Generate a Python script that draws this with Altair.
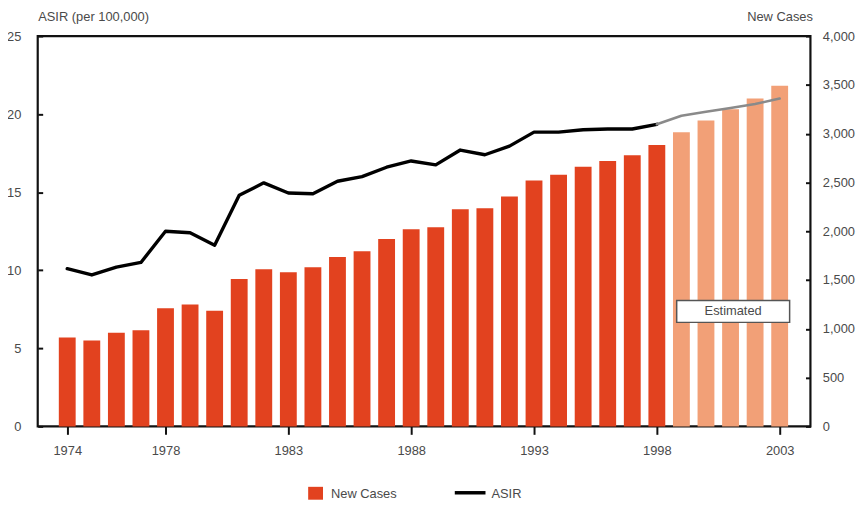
import altair as alt
import pandas as pd

years = list(range(1974, 2004))
new_cases = [910, 880, 960, 985, 1210, 1250, 1185, 1510, 1610, 1580,
             1630, 1735, 1795, 1920, 2020, 2040, 2225, 2235, 2355, 2520,
             2580, 2660, 2720, 2780, 2885, 3015, 3135, 3250, 3360, 3490]
asir = [10.1, 9.7, 10.2, 10.5, 12.5, 12.4, 11.6, 14.8, 15.6, 14.95,
        14.9, 15.7, 16.0, 16.6, 17.0, 16.75, 17.7, 17.4, 17.95, 18.85,
        18.85, 19.0, 19.05, 19.05, 19.35, 19.9, 20.15, 20.4, 20.65, 21.0]
first_estimated = 1999
x_ticks = [1974, 1978, 1983, 1988, 1993, 1998, 2003]
left_ticks = [0, 5, 10, 15, 20, 25]
right_ticks = [0, 500, 1000, 1500, 2000, 2500, 3000, 3500, 4000]

FONT = "Liberation Sans, Arial, sans-serif"
FS = 13
TXT = "#4a4a4a"
RED = "#E2421F"
PEACH = "#F2A077"

bars_df = pd.DataFrame({
    "year": years,
    "cases": new_cases,
    "kind": ["Estimated" if y >= first_estimated else "Observed" for y in years],
})

rows = []
for y, v in zip(years, asir):
    if y < first_estimated:
        rows.append({"year": y, "asir": v, "seg": "Observed"})
    if y >= first_estimated - 1:
        rows.append({"year": y, "asir": v, "seg": "Estimated"})
line_df = pd.DataFrame(rows)

xscale = alt.Scale(domain=[1973, 2004.05], nice=False, zero=False)
xaxis = alt.Axis(values=x_ticks, format="d", title=None, domain=False,
                 tickSize=8, tickWidth=2, tickColor="#111", labelPadding=10,
                 labelFont=FONT, labelFontSize=FS, labelColor=TXT, grid=False)

bars = alt.Chart(bars_df).mark_bar(size=17).encode(
    x=alt.X("year:Q", scale=xscale, axis=xaxis),
    y=alt.Y("cases:Q", scale=alt.Scale(domain=[0, 4000], nice=False),
            axis=alt.Axis(orient="right", values=right_ticks, format=",.0f",
                          offset=-5, tickSize=5, tickWidth=2, tickColor="#111",
                          domain=False, grid=False, labelPadding=12,
                          labelFont=FONT, labelFontSize=FS, labelColor=TXT,
                          title="New Cases", titleAngle=0, titleAlign="right",
                          titleBaseline="alphabetic", titleX=7, titleY=-16,
                          titleFont=FONT, titleFontSize=FS, titleFontWeight="normal",
                          titleColor=TXT)),
    color=alt.Color("kind:N", scale=alt.Scale(domain=["Observed", "Estimated"],
                                              range=[RED, PEACH]), legend=None),
)

line = alt.Chart(line_df).mark_line(strokeCap="round", strokeJoin="round").encode(
    x=alt.X("year:Q", scale=xscale),
    y=alt.Y("asir:Q", scale=alt.Scale(domain=[0, 25], nice=False),
            axis=alt.Axis(orient="left", values=left_ticks, offset=-5, tickSize=5,
                          tickWidth=2, tickColor="#111", domain=False, grid=False,
                          labelPadding=17, labelFont=FONT, labelFontSize=FS,
                          labelColor=TXT, title="ASIR (per 100,000)", titleAngle=0,
                          titleAlign="left", titleBaseline="alphabetic",
                          titleX=-5, titleY=-16, titleFont=FONT, titleFontSize=FS,
                          titleFontWeight="normal", titleColor=TXT)),
    stroke=alt.Stroke("seg:N", scale=alt.Scale(domain=["Observed", "Estimated"],
                                               range=["#000000", "#8a8a8a"]), legend=None),
    strokeWidth=alt.StrokeWidth("seg:N", scale=alt.Scale(domain=["Observed", "Estimated"],
                                                         range=[3.4, 2.6]), legend=None),
    detail="seg:N",
)

one = pd.DataFrame({"k": [0]})

est_box = alt.Chart(one).mark_rect(fill="white", stroke="#555", strokeWidth=1.5).encode(
    x=alt.value(645), x2=alt.value(759), y=alt.value(267), y2=alt.value(289))
est_text = alt.Chart(one).mark_text(text="Estimated", font=FONT, fontSize=FS,
                                    color=TXT, baseline="middle").encode(
    x=alt.value(702), y=alt.value(278))

leg_sq = alt.Chart(one).mark_rect(fill=RED).encode(
    x=alt.value(273), x2=alt.value(288), y=alt.value(455), y2=alt.value(468))
leg_t1 = alt.Chart(one).mark_text(text="New Cases", font=FONT, fontSize=FS, color=TXT,
                                  align="left", baseline="middle").encode(
    x=alt.value(296), y=alt.value(462))
leg_ln = alt.Chart(one).mark_rule(stroke="#000", strokeWidth=3.5).encode(
    x=alt.value(421), x2=alt.value(452), y=alt.value(461))
leg_t2 = alt.Chart(one).mark_text(text="ASIR", font=FONT, fontSize=FS, color=TXT,
                                  align="left", baseline="middle").encode(
    x=alt.value(458), y=alt.value(462))

chart = alt.layer(bars, line, est_box, est_text, leg_sq, leg_t1, leg_ln, leg_t2).resolve_scale(
    y="independent", stroke="independent", strokeWidth="independent"
).properties(
    width=780, height=394,
    autosize=alt.AutoSizeParams(type="none"),
    padding={"left": 30, "top": 26, "right": 46, "bottom": 77},
    background="white",
).configure_view(stroke="#111", strokeWidth=2.2)

chart.save("out.html", embed_options={"renderer": "svg", "actions": False})
